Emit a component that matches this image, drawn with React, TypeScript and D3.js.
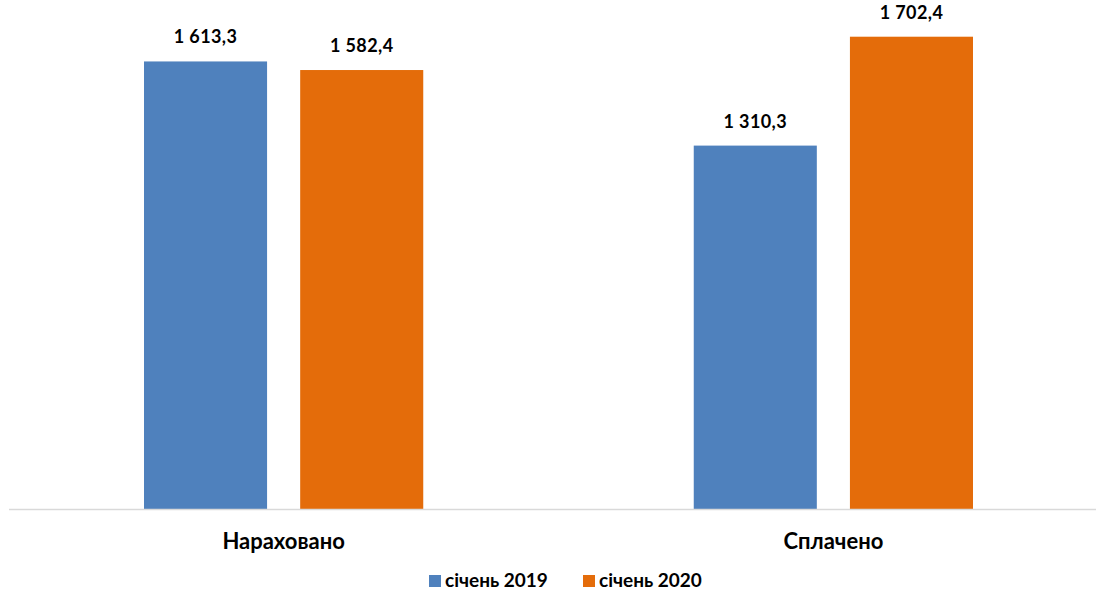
import React from "react";
import * as d3 from "d3";

const categories = ["Нараховано", "Сплачено"];
const seriesNames = ["січень 2019", "січень 2020"];
const values2019 = [1613.3, 1310.3];
const values2020 = [1582.4, 1702.4];
const colors = ["#4F81BD", "#E46C0A"];

const width = 1097;
const height = 590;
const font = "Lato, 'Open Sans', 'DejaVu Sans', sans-serif";

const formatValue = (v: number) => {
  const [int, dec] = v.toFixed(1).split(".");
  return int.replace(/\B(?=(\d{3})+(?!\d))/g, " ") + "," + dec;
};

export default function App() {
  const baseline = 509.5;
  const x0 = d3.scaleBand().domain(categories).range([8.75, 1108.25]);
  const x1 = d3
    .scaleBand()
    .domain(seriesNames)
    .range([135.25, x0.bandwidth() - 135.25])
    .paddingInner(0.212);
  const y = d3.scaleLinear().domain([0, 1800]).range([baseline, 9.6]);

  const series = [values2019, values2020];

  return (
    <div style={{ position: "absolute", left: 0, top: 0 }}>
      <svg width={width} height={height} style={{ display: "block", background: "#fff" }}>
        {/* bars and value labels */}
        {categories.map((cat, ci) => (
          <g key={cat} transform={`translate(${x0(cat)},0)`}>
            {seriesNames.map((s, si) => {
              const v = series[si][ci];
              const bx = x1(s) || 0;
              return (
                <g key={s}>
                  <rect
                    x={bx}
                    y={y(v)}
                    width={x1.bandwidth()}
                    height={baseline - y(v)}
                    fill={colors[si]}
                  />
                  <text
                    x={bx + x1.bandwidth() / 2}
                    y={y(v) - 18}
                    textAnchor="middle"
                    fontFamily={font}
                    fontWeight="bold"
                    fontSize={18}
                    letterSpacing={0.4}
                    fill="#000"
                  >
                    {formatValue(v)}
                  </text>
                </g>
              );
            })}
            <text
              x={x0.bandwidth() / 2}
              y={549}
              textAnchor="middle"
              fontFamily={font}
              fontWeight="bold"
              fontSize={22}
              fill="#000"
            >
              {cat}
            </text>
          </g>
        ))}

        {/* baseline */}
        <line x1={9} x2={1096} y1={baseline} y2={baseline} stroke="#d9d9d9" strokeWidth={1.5} />

        {/* legend */}
        {seriesNames.map((s, i) => {
          const lx = [429, 583][i];
          return (
            <g key={s}>
              <rect x={lx} y={575} width={12} height={12} fill={colors[i]} />
              <text
                x={lx + 16}
                y={587}
                fontFamily={font}
                fontWeight="bold"
                fontSize={19}
                fill="#000"
              >
                {s}
              </text>
            </g>
          );
        })}
      </svg>
    </div>
  );
}
